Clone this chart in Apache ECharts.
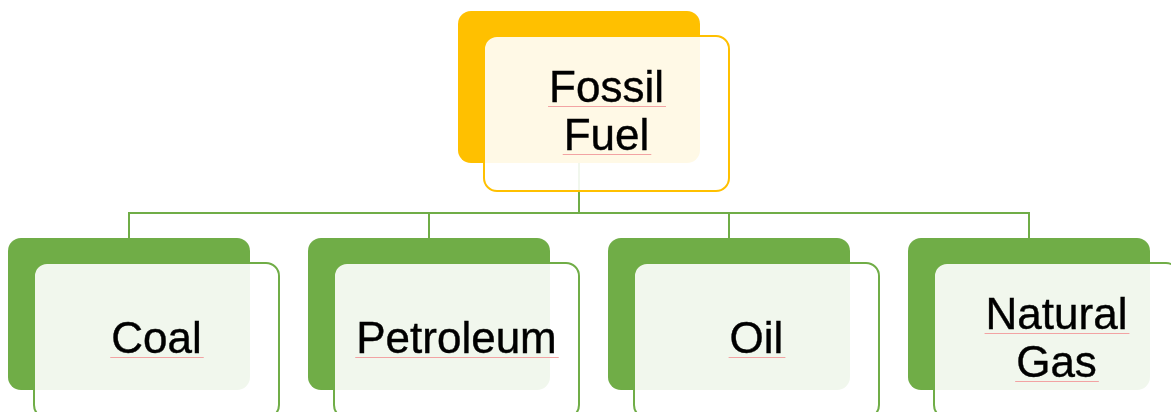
<!DOCTYPE html>
<html>
<head>
<meta charset="utf-8">
<script src="https://cdn.jsdelivr.net/npm/echarts@6/dist/echarts.min.js"></script>
<style>
html,body{margin:0;padding:0;background:#fff;}
#chart{width:1171px;height:412px;}
</style>
</head>
<body>
<div id="chart"></div>
<script>
// ---- data ----
const rootLabel = 'Fossil\nFuel';
const rootSlot = 1.5;
const childLabels = ['Coal', 'Petroleum', 'Oil', 'Natural\nGas'];
const childSlots = [0, 1, 2, 3];
const levelColors = ['#FFC000', '#70AD47'];

// ---- build ----
const nodeLabels = [rootLabel].concat(childLabels);
const nodeData = [[rootSlot, 0]].concat(childSlots.map(s => [s, 1]));
const edgeData = childSlots.map(s => [s, 1, rootSlot, 0]);

const FONT_SIZE = 44, LINE_H = 48;
const FONT = FONT_SIZE + 'px "Liberation Sans", Arial, sans-serif';
const measureCtx = document.createElement('canvas').getContext('2d');
measureCtx.font = FONT;

const BW = 242, BH = 152;      // back box
const FDX = 26, FDY = 25;      // front offset
const FW = 245, FH = 155;      // front box

function nodeRender(params, api) {
  const c = api.coord([api.value(0), api.value(1)]);
  const lvl = api.value(1);
  const color = levelColors[lvl];
  const bx = c[0] - BW / 2, by = c[1] - BH / 2;
  const fx = bx + FDX, fy = by + FDY;
  const tcx = fx + FW / 2, tcy = fy + FH / 2;
  const label = nodeLabels[params.dataIndex];
  const lines = label.split('\n');
  const children = [
    { type: 'rect', shape: { x: bx, y: by, width: BW, height: BH, r: 13 }, style: { fill: color } },
    { type: 'rect', shape: { x: fx, y: fy, width: FW, height: FH, r: 13 },
      style: { fill: 'rgba(255,255,255,0.9)', stroke: color, lineWidth: 2 } }
  ];
  lines.forEach((ln, i) => {
    const w = measureCtx.measureText(ln).width;
    const lineCenter = tcy - (lines.length - 1) * LINE_H / 2 + i * LINE_H;
    const uy = Math.round(lineCenter + 16) + 0.5;
    children.push({ type: 'rect', shape: { x: tcx - w / 2 - 1, y: uy - 0.5, width: w + 3, height: 1 },
      style: { fill: '#F2A3A3', stroke: null } });
  });
  children.push({ type: 'text', x: tcx, y: tcy,
    style: { text: label, font: FONT, fill: '#000', align: 'center', verticalAlign: 'middle', lineHeight: LINE_H,
             stroke: '#000', lineWidth: 0.4 } });
  return { type: 'group', children };
}

function edgeRender(params, api) {
  const cc = api.coord([api.value(0), api.value(1)]);
  const pc = api.coord([api.value(2), api.value(3)]);
  const parentBottom = pc[1] + BH / 2;
  const childTop = cc[1] - BH / 2;
  const busY = parentBottom + 50;
  return {
    type: 'polyline',
    shape: { points: [[pc[0], parentBottom], [pc[0], busY], [cc[0], busY], [cc[0], childTop]] },
    style: { stroke: '#70AD47', lineWidth: 2, fill: null }
  };
}

const chart = echarts.init(document.getElementById('chart'), null, { renderer: 'canvas' });
chart.setOption({
  animation: false,
  backgroundColor: '#ffffff',
  grid: { left: 0, right: 0, top: 0, bottom: 0 },
  xAxis: { type: 'value', min: -0.43, max: -0.43 + 1171 / 300, show: false },
  yAxis: { type: 'value', inverse: true, min: -87 / 227, max: -87 / 227 + 412 / 227, show: false },
  series: [
    { type: 'custom', renderItem: edgeRender, data: edgeData, silent: true, clip: false },
    { type: 'custom', renderItem: nodeRender, data: nodeData, silent: true, clip: false }
  ]
});
</script>
</body>
</html>
